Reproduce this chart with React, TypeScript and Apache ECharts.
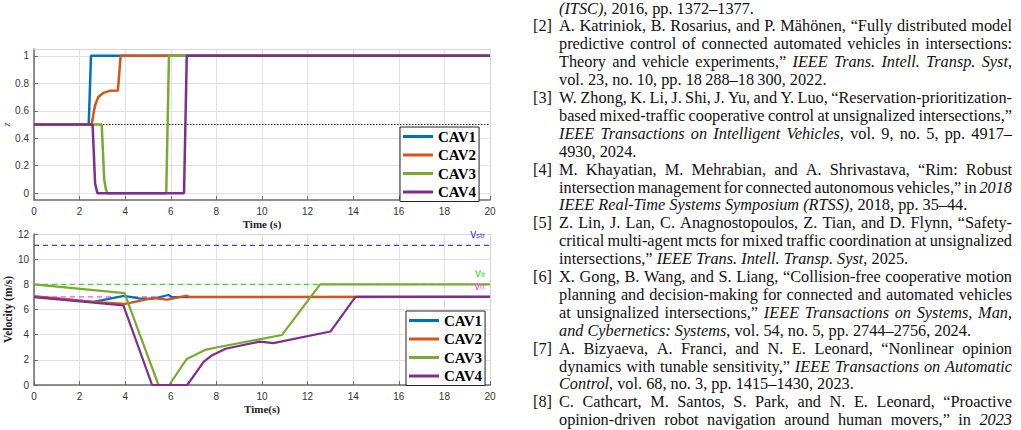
import React, { useEffect, useRef } from 'react';
import * as echarts from 'echarts';

// ---- vehicles ----
const CAV_NAMES = ['CAV1', 'CAV2', 'CAV3', 'CAV4'];
const CAV_COLORS = ['#0072BD', '#D95319', '#77AC30', '#7E2F8E'];

// ---- opinion state z(t) ----
const zTime1 = [0, 2.4, 2.5, 20];
const zVal1 = [0.5, 0.5, 1, 1];
const zTime2 = [0, 2.53, 2.6, 2.68, 2.82, 3.04, 3.33, 3.68, 3.8, 20];
const zVal2 = [0.5, 0.5, 0.57, 0.64, 0.7, 0.73, 0.745, 0.748, 1, 1];
const zTime3 = [0, 2.97, 3.08, 3.15, 3.22, 5.8, 5.92, 20];
const zVal3 = [0.5, 0.5, 0.1, 0.03, 0, 0, 1, 1];
const zTime4 = [0, 2.57, 2.68, 2.78, 6.58, 6.7, 20];
const zVal4 = [0.5, 0.5, 0.07, 0, 0, 1, 1];
const zNeutral = 0.5;
const zTicks = [0, 0.2, 0.4, 0.6, 0.8, 1];

// ---- velocity v(t) ----
const vTime1 = [0, 2.6, 3.95, 4.6, 5.2, 5.9, 6.05, 20];
const vVal1 = [7.02, 6.6, 7.08, 6.88, 6.85, 7.15, 6.98, 7.0];
const vTime2 = [0, 2.6, 4.0, 5.2, 5.85, 6.7, 6.85, 20];
const vVal2 = [7.07, 6.6, 6.45, 6.9, 6.78, 7.1, 7.0, 7.0];
const vTime3 = [0, 3.97, 5.46, 5.93, 6.7, 7.5, 8.0, 10.87, 12.55, 20];
const vVal3 = [8.0, 7.3, 0, 0, 2.07, 2.79, 2.98, 3.97, 8.0, 8.0];
const vTime4 = [0, 3.92, 5.18, 6.72, 7.45, 7.8, 8.4, 9.9, 10.5, 13.0, 14.1, 20];
const vVal4 = [6.98, 6.32, 0, 0, 1.85, 2.35, 2.88, 3.45, 3.33, 4.25, 7.0, 7.0];

// reference speeds: straight, left turn, right turn
const refSubs = ['str', 'lt', 'rt'];
const refSpeeds = [11.1, 8, 7];
const refColors = ['#3d3dff', '#33e033', '#ff4dff'];

const zTimes = [zTime1, zTime2, zTime3, zTime4];
const zVals = [zVal1, zVal2, zVal3, zVal4];
const vTimes = [vTime1, vTime2, vTime3, vTime4];
const vVals = [vVal1, vVal2, vVal3, vVal4];

// ---- bibliography column ----
type Part = [string, boolean];
type RefLine = { num?: string; parts: Part[]; justify: boolean };
const refLines: RefLine[] = [
  { parts: [['(ITSC)', true], [', 2016, pp. 1372–1377.', false]], justify: false },
  { num: '[2]', parts: [['A. Katriniok, B. Rosarius, and P. Mähönen, “Fully distributed model', false]], justify: true },
  { parts: [['predictive control of connected automated vehicles in intersections:', false]], justify: true },
  { parts: [['Theory and vehicle experiments,” ', false], ['IEEE Trans. Intell. Transp. Syst', true], [',', false]], justify: true },
  { parts: [['vol. 23, no. 10, pp. 18\u2009288–18\u2009300, 2022.', false]], justify: false },
  { num: '[3]', parts: [['W. Zhong, K. Li, J. Shi, J. Yu, and Y. Luo, “Reservation-prioritization-', false]], justify: true },
  { parts: [['based mixed-traffic cooperative control at unsignalized intersections,”', false]], justify: true },
  { parts: [['IEEE Transactions on Intelligent Vehicles', true], [', vol. 9, no. 5, pp. 4917–', false]], justify: true },
  { parts: [['4930, 2024.', false]], justify: false },
  { num: '[4]', parts: [['M. Khayatian, M. Mehrabian, and A. Shrivastava, “Rim: Robust', false]], justify: true },
  { parts: [['intersection management for connected autonomous vehicles,” in ', false], ['2018', true]], justify: true },
  { parts: [['IEEE Real-Time Systems Symposium (RTSS)', true], [', 2018, pp. 35–44.', false]], justify: false },
  { num: '[5]', parts: [['Z. Lin, J. Lan, C. Anagnostopoulos, Z. Tian, and D. Flynn, “Safety-', false]], justify: true },
  { parts: [['critical multi-agent mcts for mixed traffic coordination at unsignalized', false]], justify: true },
  { parts: [['intersections,” ', false], ['IEEE Trans. Intell. Transp. Syst', true], [', 2025.', false]], justify: false },
  { num: '[6]', parts: [['X. Gong, B. Wang, and S. Liang, “Collision-free cooperative motion', false]], justify: true },
  { parts: [['planning and decision-making for connected and automated vehicles', false]], justify: true },
  { parts: [['at unsignalized intersections,” ', false], ['IEEE Transactions on Systems, Man,', true]], justify: true },
  { parts: [['and Cybernetics: Systems', true], [', vol. 54, no. 5, pp. 2744–2756, 2024.', false]], justify: false },
  { num: '[7]', parts: [['A. Bizyaeva, A. Franci, and N. E. Leonard, “Nonlinear opinion', false]], justify: true },
  { parts: [['dynamics with tunable sensitivity,” ', false], ['IEEE Transactions on Automatic', true]], justify: true },
  { parts: [['Control', true], [', vol. 68, no. 3, pp. 1415–1430, 2023.', false]], justify: false },
  { num: '[8]', parts: [['C. Cathcart, M. Santos, S. Park, and N. E. Leonard, “Proactive', false]], justify: true },
  { parts: [['opinion-driven robot navigation around human movers,” in ', false], ['2023', true]], justify: true },
];

const SERIF = 'Liberation Serif';
const SANS = 'Liberation Sans';
const REF_FONT = 16.3;
const REF_LEFT = 559;
const REF_RIGHT = 1012;
const REF_NUM_X = 533;
const REF_TOP = 8.05;
const REF_STEP = 17.9;

function splitWords(parts: Part[]): Part[][] {
  const words: Part[][] = [];
  let cur: Part[] = [];
  for (const [text, italic] of parts) {
    const chunks = text.split(' ');
    chunks.forEach((c, i) => {
      if (i > 0) {
        if (cur.length) words.push(cur);
        cur = [];
      }
      if (c) cur.push([c, italic]);
    });
  }
  if (cur.length) words.push(cur);
  return words;
}

function buildReferenceText(): any[] {
  const canvas = document.createElement('canvas');
  const ctx = canvas.getContext('2d')!;
  const fontOf = (italic: boolean) => `${italic ? 'italic ' : ''}${REF_FONT}px "${SERIF}"`;
  const measure = (s: string, italic: boolean) => {
    ctx.font = fontOf(italic);
    return ctx.measureText(s).width;
  };
  const spaceW = measure(' ', false);
  const els: any[] = [];
  const textEl = (x: number, y: number, text: string, italic: boolean) => ({
    type: 'text',
    x,
    y,
    silent: true,
    style: {
      text,
      fontFamily: SERIF,
      fontSize: REF_FONT,
      fontStyle: italic ? 'italic' : 'normal',
      fill: '#111',
      align: 'left',
      verticalAlign: 'middle',
    },
  });
  refLines.forEach((line, i) => {
    const y = REF_TOP + i * REF_STEP;
    if (line.num) els.push(textEl(REF_NUM_X, y, line.num, false));
    const words = splitWords(line.parts);
    const widths = words.map((w) => w.map(([t, it]) => measure(t, it)));
    const total = widths.reduce((a, ws) => a + ws.reduce((b, v) => b + v, 0), 0);
    const gap =
      line.justify && words.length > 1
        ? (REF_RIGHT - REF_LEFT - total) / (words.length - 1)
        : spaceW;
    let x = REF_LEFT;
    words.forEach((w, wi) => {
      w.forEach(([t, it], pi) => {
        els.push(textEl(x, y, t, it));
        x += widths[wi][pi];
      });
      x += gap;
    });
  });
  return els;
}

const pairs = (ts: number[], vs: number[]) => ts.map((t, i) => [t, vs[i]]);

const AXIS_COLOR = '#6b6b6b';
const GRID_COLOR = '#e2e2e2';
const FRAME_COLOR = '#d6d6d6';
const tickLabel = { color: '#333', fontSize: 10, fontFamily: SANS };
const nameStyle = { fontFamily: SERIF, fontWeight: 'bold' as const, fontSize: 11, color: '#222' };

function mainXAxis(gridIndex: number, name: string) {
  return {
    gridIndex,
    type: 'value',
    min: 0,
    max: 20,
    interval: 2,
    name,
    nameLocation: 'middle',
    nameGap: 18,
    nameTextStyle: nameStyle,
    axisLine: { show: true, onZero: false, lineStyle: { color: AXIS_COLOR, width: 1.5 } },
    axisTick: { show: true, inside: true, length: 4, lineStyle: { color: AXIS_COLOR } },
    axisLabel: { ...tickLabel, margin: 6 },
    splitLine: { show: true, lineStyle: { color: GRID_COLOR, width: 1 } },
  };
}

function frameAxis(gridIndex: number, position: string) {
  return {
    gridIndex,
    type: 'value',
    position,
    min: 0,
    max: 1,
    axisLine: { show: true, onZero: false, lineStyle: { color: FRAME_COLOR, width: 1 } },
    axisTick: { show: false },
    axisLabel: { show: false },
    splitLine: { show: false },
  };
}

function buildOption(): any {
  const series: any[] = [];

  // neutral opinion level
  series.push({
    type: 'line',
    name: 'neutral',
    xAxisIndex: 0,
    yAxisIndex: 0,
    data: [[0, zNeutral], [20, zNeutral]],
    symbol: 'none',
    silent: true,
    lineStyle: { color: '#222', width: 1, type: [1.5, 1.5] },
  });
  CAV_NAMES.forEach((name, i) => {
    series.push({
      type: 'line',
      name,
      xAxisIndex: 0,
      yAxisIndex: 0,
      data: pairs(zTimes[i], zVals[i]),
      symbol: 'none',
      silent: true,
      clip: false,
      color: CAV_COLORS[i],
      lineStyle: { color: CAV_COLORS[i], width: 2.5 },
    });
  });

  // reference speeds
  refSpeeds.forEach((v, i) => {
    series.push({
      type: 'line',
      name: 'v_' + refSubs[i],
      xAxisIndex: 2,
      yAxisIndex: 2,
      data: [[0, v], [20, v]],
      symbol: 'none',
      silent: true,
      lineStyle: { color: refColors[i], width: 1.3, type: [5, 4] },
      endLabel: {
        show: true,
        align: 'right',
        verticalAlign: 'bottom',
        offset: [-13, -6],
        formatter: `{a|v}{b|${refSubs[i]}}`,
        rich: {
          a: { color: refColors[i], fontFamily: SANS, fontSize: 12, lineHeight: 11, verticalAlign: 'top' },
          b: {
            color: refColors[i],
            fontFamily: SANS,
            fontSize: 8,
            lineHeight: 9,
            padding: [13, 0, 0, 0],
            verticalAlign: 'bottom',
          },
        },
      },
    });
  });
  CAV_NAMES.forEach((name, i) => {
    series.push({
      type: 'line',
      name,
      xAxisIndex: 2,
      yAxisIndex: 2,
      data: pairs(vTimes[i], vVals[i]),
      symbol: 'none',
      silent: true,
      clip: false,
      color: CAV_COLORS[i],
      lineStyle: { color: CAV_COLORS[i], width: 2.2 },
    });
  });

  const legendBase = {
    orient: 'vertical',
    data: CAV_NAMES,
    icon: 'rect',
    itemWidth: 30,
    itemHeight: 3,
    itemGap: 3.5,
    padding: [2, 3, 2, 3],
    backgroundColor: '#fff',
    borderColor: '#222',
    borderWidth: 1,
    borderRadius: 0,
    selectedMode: false,
    textStyle: { fontFamily: SERIF, fontWeight: 'bold', fontSize: 15, lineHeight: 14, color: '#000' },
  };

  return {
    animation: false,
    backgroundColor: '#fff',
    grid: [
      { left: 34, top: 49, width: 456, height: 151 },
      { left: 34, top: 234, width: 456, height: 151 },
    ],
    xAxis: [mainXAxis(0, 'Time (s)'), frameAxis(0, 'top'), mainXAxis(1, 'Time(s)'), frameAxis(1, 'top')],
    yAxis: [
      {
        gridIndex: 0,
        type: 'value',
        min: -0.05,
        max: 1.05,
        name: 'z',
        nameLocation: 'middle',
        nameGap: 22,
        nameRotate: 90,
        nameTextStyle: { fontFamily: SERIF, fontStyle: 'italic', fontSize: 10, color: '#333' },
        axisLine: { show: true, onZero: false, lineStyle: { color: AXIS_COLOR, width: 1.5 } },
        axisTick: { show: true, inside: true, length: 4, customValues: zTicks, lineStyle: { color: AXIS_COLOR } },
        axisLabel: { ...tickLabel, margin: 5, customValues: zTicks },
        splitLine: { show: true, lineStyle: { color: GRID_COLOR, width: 1 } },
      },
      frameAxis(0, 'right'),
      {
        gridIndex: 1,
        type: 'value',
        min: 0,
        max: 12,
        interval: 2,
        name: 'Velocity (m/s)',
        nameLocation: 'middle',
        nameGap: 20,
        nameRotate: 90,
        nameTextStyle: { ...nameStyle, fontSize: 11.5 },
        axisLine: { show: true, onZero: false, lineStyle: { color: AXIS_COLOR, width: 1.5 } },
        axisTick: { show: true, inside: true, length: 4, lineStyle: { color: AXIS_COLOR } },
        axisLabel: { ...tickLabel, margin: 5 },
        splitLine: { show: true, lineStyle: { color: GRID_COLOR, width: 1 } },
      },
      frameAxis(1, 'right'),
    ],
    legend: [
      { ...legendBase, left: 400, top: 127 },
      { ...legendBase, left: 406, top: 311 },
    ],
    series,
    graphic: buildReferenceText(),
  };
}

export default function App() {
  const ref = useRef<HTMLDivElement>(null);
  useEffect(() => {
    if (!ref.current) return;
    const chart = echarts.init(ref.current, undefined, { renderer: 'svg' });
    chart.setOption(buildOption());
    return () => chart.dispose();
  }, []);
  return (
    <div
      ref={ref}
      style={{ position: 'fixed', left: 0, top: 0, width: 1021, height: 430, background: '#fff' }}
    />
  );
}
